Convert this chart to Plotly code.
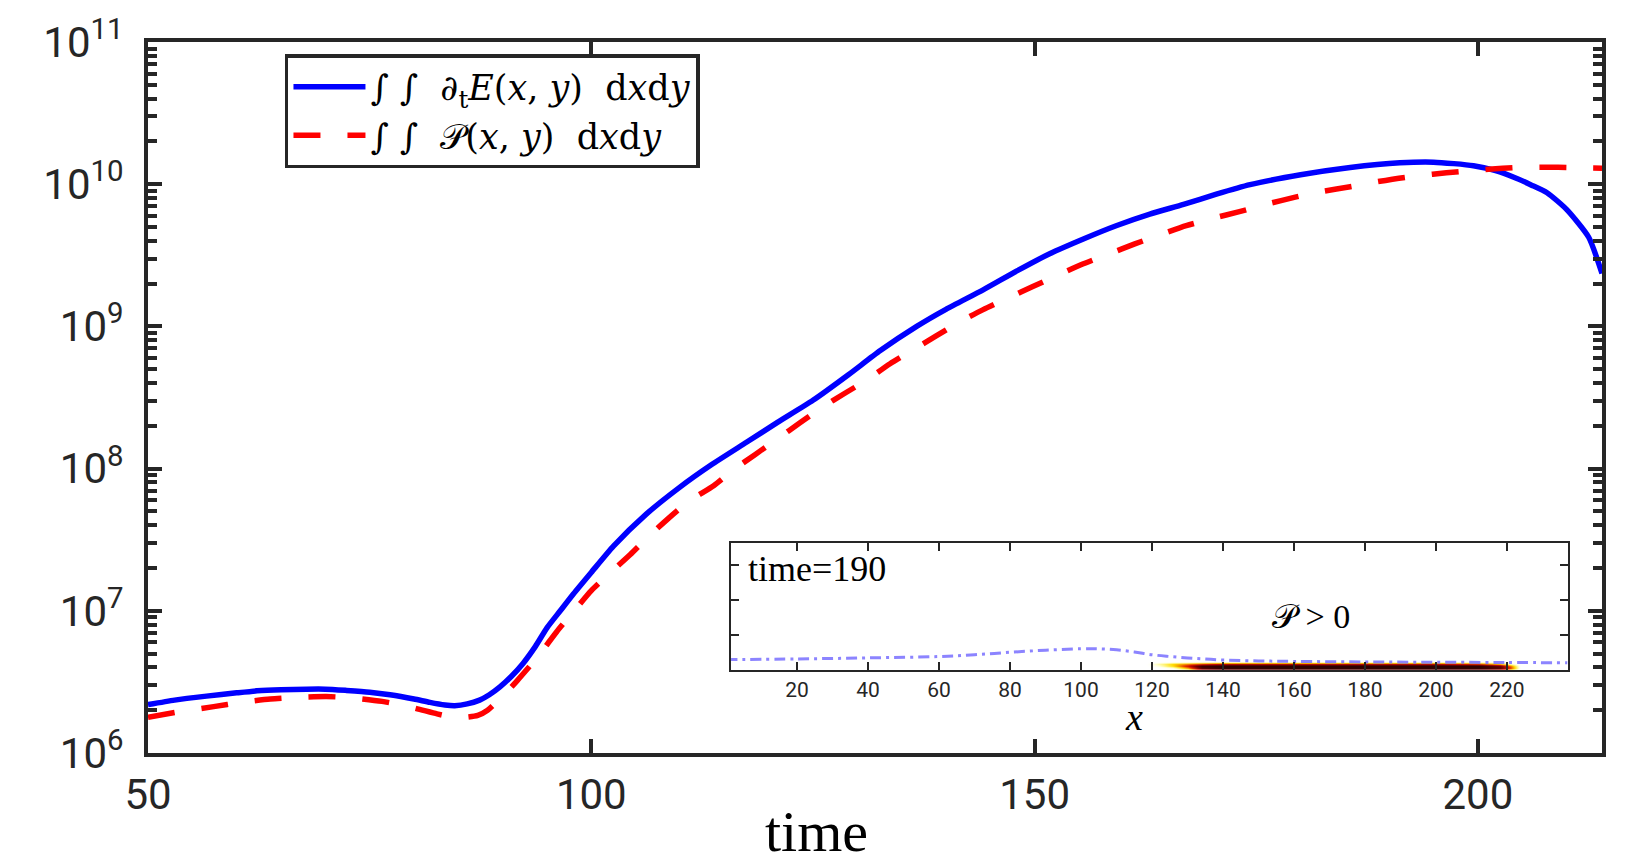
import plotly.graph_objects as go

# ---- main data (time, log10 of value) ----
t_blue = [50, 53, 56.6, 60, 62.3, 65, 67.9, 70, 72.4, 75, 77.3, 80, 81.8, 83.5, 84.6, 86, 87.4, 88.5, 89.7,
          91, 92.3, 93.7, 95, 96.5, 98, 100, 102.5, 106.2, 110, 113.5, 117.5, 121, 125, 129, 132.6, 136.7,
          140, 144.2, 148, 151.7, 155.5, 159.2, 163, 166.8, 170.5, 174.3, 180, 185.6, 191.2, 195, 199.5,
          202, 204.4, 206, 207.8, 210, 212.5, 214]
log_blue = [6.34, 6.372, 6.40, 6.423, 6.437, 6.445, 6.449, 6.449, 6.44, 6.428, 6.41, 6.38, 6.356, 6.338, 6.333,
            6.345, 6.372, 6.41, 6.465, 6.54, 6.63, 6.75, 6.88, 7.0, 7.12, 7.27, 7.455, 7.68, 7.87, 8.025,
            8.185, 8.325, 8.48, 8.66, 8.83, 9.0, 9.12, 9.257, 9.39, 9.511, 9.615, 9.708, 9.79, 9.858, 9.93,
            9.997, 10.066, 10.117, 10.150, 10.155, 10.13, 10.095, 10.04, 9.995, 9.94, 9.823, 9.627, 9.372]

t_red = [50, 53.5, 57.4, 60.5, 63.8, 67, 70.1, 73, 76.4, 79.5, 82.6, 84.1, 85.5, 87.2, 88.3, 90, 91.6, 94,
         96.1, 98, 100, 102, 104.4, 106.5, 108.7, 111, 113.8, 116, 118.5, 121, 123.5, 126, 128.6, 131,
         133.7, 136.3, 138.9, 141.5, 144.2, 147, 149.8, 152.6, 155.5, 158.4, 161.3, 164.2, 167.1, 170.1,
         173.1, 176.2, 179.4, 182.5, 185.6, 188.7, 191.8, 194.9, 198, 201.2, 204.4, 207.5, 210.6, 214]
log_red = [6.252, 6.29, 6.326, 6.356, 6.38, 6.392, 6.397, 6.388, 6.363, 6.325, 6.275, 6.255, 6.25, 6.264,
           6.30, 6.40, 6.506, 6.68, 6.853, 6.995, 7.142, 7.26, 7.396, 7.525, 7.65, 7.77, 7.88, 7.99, 8.10,
           8.21, 8.32, 8.43, 8.53, 8.62, 8.737, 8.835, 8.933, 9.03, 9.118, 9.2, 9.28, 9.36, 9.44, 9.51, 9.58,
           9.645, 9.708, 9.76, 9.807, 9.86, 9.909, 9.95, 9.982, 10.018, 10.048, 10.07, 10.089, 10.105,
           10.117, 10.12, 10.117, 10.113]

val_blue = [10 ** v for v in log_blue]
val_red = [10 ** v for v in log_red]

x_ticks = [50, 100, 150, 200]
y_tickvals = [1e6, 1e7, 1e8, 1e9, 1e10, 1e11]
y_ticktext = ["10<sup>6</sup>", "10<sup>7</sup>", "10<sup>8</sup>", "10<sup>9</sup>",
              "10<sup>10</sup>", "10<sup>11</sup>"]

# ---- inset data ----
inset_x_ticks = [20, 40, 60, 80, 100, 120, 140, 160, 180, 200, 220]
curve_x = [0, 20, 40, 60, 70, 80, 90, 100, 105, 110, 115, 120, 125, 130, 135, 140, 150, 160, 180, 200, 220, 237]
curve_y = [3.0, 3.2, 3.5, 3.9, 4.4, 5.1, 5.7, 6.1, 6.1, 5.8, 5.2, 4.4, 3.9, 3.5, 3.2, 2.9, 2.65, 2.5, 2.35, 2.25, 2.2, 2.1]

hm_x = [118, 122, 126, 130, 134, 140, 160, 180, 200, 212, 218, 221, 224]
hm_y = [0.0, 0.6, 1.2, 1.8, 2.4]
hm_z = [
    [0, 0, 0, 0.1, 0.5, 0.7, 0.8, 0.8, 0.8, 0.7, 0.5, 0.2, 0],
    [0, 0, 0.1, 0.4, 0.9, 1, 1, 1, 1, 1, 0.9, 0.5, 0],
    [0, 0.1, 0.3, 0.6, 0.95, 1, 1, 1, 1, 1, 0.8, 0.4, 0],
    [0, 0.15, 0.3, 0.4, 0.5, 0.6, 0.6, 0.6, 0.6, 0.5, 0.3, 0.1, 0],
    [0, 0, 0, 0, 0, 0, 0, 0, 0, 0, 0, 0, 0],
]

AX = "#262626"
SERIF = "Liberation Serif, DejaVu Serif, serif"
LEG_SERIF = "DejaVu Serif, Liberation Serif, serif"
SANS = "Roboto, Open Sans, sans-serif"

fig = go.Figure()

fig.add_trace(go.Scatter(
    x=t_blue, y=val_blue, mode="lines",
    line=dict(color="#0000ff", width=5.5, shape="spline", smoothing=0.6),
    name="∫ ∫  ∂<sub>t</sub><i>E</i>(<i>x</i>, <i>y</i>)  d<i>x</i>d<i>y</i>",
    xaxis="x", yaxis="y"))
fig.add_trace(go.Scatter(
    x=t_red, y=val_red, mode="lines",
    line=dict(color="#ff0000", width=5.5, dash="27px,27px", shape="spline", smoothing=0.6),
    name="∫ ∫  𝒫(<i>x</i>, <i>y</i>)  d<i>x</i>d<i>y</i>",
    xaxis="x", yaxis="y"))

fig.add_trace(go.Heatmap(
    x=hm_x, y=hm_y, z=hm_z, zsmooth="best", showscale=False, hoverinfo="skip",
    zmin=0, zmax=1,
    colorscale=[[0, "rgba(255,255,255,0)"], [0.12, "rgba(255,255,190,0.9)"], [0.3, "rgb(255,220,0)"],
                [0.55, "rgb(225,20,0)"], [0.8, "rgb(110,0,0)"], [1, "rgb(45,0,0)"]],
    xaxis="x2", yaxis="y2", showlegend=False))
fig.add_trace(go.Scatter(
    x=curve_x, y=curve_y, mode="lines",
    line=dict(color="rgba(120,110,255,0.85)", width=3, dash="11px,5px,3px,5px", shape="spline"),
    xaxis="x2", yaxis="y2", showlegend=False))

fig.update_layout(
    width=1631, height=852,
    margin=dict(l=148, r=29, t=32, b=99),
    paper_bgcolor="white", plot_bgcolor="white",
    showlegend=True,
    legend=dict(x=0.0942, y=0.983, xanchor="left", yanchor="top",
                bgcolor="white", bordercolor=AX, borderwidth=3.5,
                font=dict(family=LEG_SERIF, size=35, color="black"),
                itemwidth=72, tracegroupgap=0),
    xaxis=dict(domain=[0, 1], range=[50, 214], tickvals=x_ticks,
               showline=True, linewidth=4, linecolor=AX, mirror="ticks",
               ticks="inside", ticklen=14, tickwidth=3.5, tickcolor=AX,
               showgrid=False, zeroline=False,
               tickfont=dict(family=SANS, size=42, color=AX), ticklabelstandoff=2),
    yaxis=dict(domain=[0, 1], type="log", range=[6, 11], tickvals=y_tickvals, ticktext=y_ticktext,
               showline=True, linewidth=4, linecolor=AX, mirror="ticks",
               ticks="inside", ticklen=14, tickwidth=3.5, tickcolor=AX,
               minor=dict(ticks="inside", ticklen=9, tickwidth=3.5, tickcolor=AX, dtick="D1", showgrid=False),
               showgrid=False, zeroline=False,
               tickfont=dict(family=SANS, size=42, color=AX), ticklabelstandoff=12),
    xaxis2=dict(domain=[0.401, 0.9766], anchor="y2", range=[1.4, 237.2], tickvals=inset_x_ticks,
                showline=True, linewidth=2, linecolor=AX, mirror="ticks",
                ticks="inside", ticklen=8, tickwidth=1.5, tickcolor=AX,
                showgrid=False, zeroline=False,
                tickfont=dict(family=SANS, size=21, color=AX), ticklabelstandoff=0),
    yaxis2=dict(domain=[0.1165, 0.2954], anchor="x2", range=[0, 36.3], tickvals=[10, 20, 30],
                showticklabels=False,
                showline=True, linewidth=2, linecolor=AX, mirror="ticks",
                ticks="inside", ticklen=8, tickwidth=1.5, tickcolor=AX,
                showgrid=False, zeroline=False),
    annotations=[
        dict(text="time", xref="paper", yref="paper", x=0.460, y=-0.062, xanchor="center", yanchor="top",
             showarrow=False, font=dict(family=SERIF, size=58, color="black")),
        dict(text="time=190", xref="x2", yref="y2", x=5.5, y=29.0, xanchor="left", yanchor="middle",
             showarrow=False, font=dict(family=SERIF, size=36, color="black")),
        dict(text="𝒫 > 0", xref="x2", yref="y2", x=164.8, y=15.2, xanchor="center", yanchor="middle",
             showarrow=False, font=dict(family=SERIF, size=34, color="black")),
        dict(text="<i>x</i>", xref="paper", yref="paper", x=0.678, y=0.0513, xanchor="center", yanchor="middle",
             showarrow=False, font=dict(family=SERIF, size=38, color="black")),
    ],
)

fig.write_html("out.html")
